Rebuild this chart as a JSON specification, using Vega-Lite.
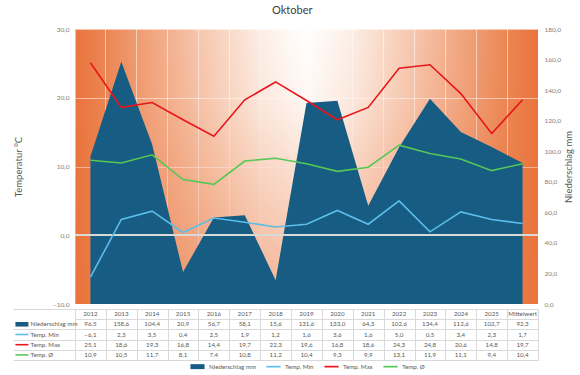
{
  "$schema": "https://vega.github.io/schema/vega-lite/v6.json",
  "background": "white",
  "padding": {"left": 12, "top": 5, "right": 5, "bottom": 4},
  "config": {
    "locale": {"number": {"decimal": ",", "thousands": ".", "grouping": [3], "currency": ["", " €"]}},
    "font": "Lato",
    "view": {"stroke": null},
    "text": {"font": "Lato"}
  },
  "title": {"text": "Oktober", "fontSize": 11, "fontWeight": "normal", "color": "#404040", "anchor": "middle", "offset": 10, "font": "Lato"},
  "data": {"values": [
    {"year": "2012", "series": "Niederschlag mm", "value": 96.5},
    {"year": "2013", "series": "Niederschlag mm", "value": 158.6},
    {"year": "2014", "series": "Niederschlag mm", "value": 104.4},
    {"year": "2015", "series": "Niederschlag mm", "value": 20.9},
    {"year": "2016", "series": "Niederschlag mm", "value": 56.7},
    {"year": "2017", "series": "Niederschlag mm", "value": 58.1},
    {"year": "2018", "series": "Niederschlag mm", "value": 15.6},
    {"year": "2019", "series": "Niederschlag mm", "value": 131.6},
    {"year": "2020", "series": "Niederschlag mm", "value": 133.0},
    {"year": "2021", "series": "Niederschlag mm", "value": 64.3},
    {"year": "2022", "series": "Niederschlag mm", "value": 102.6},
    {"year": "2023", "series": "Niederschlag mm", "value": 134.4},
    {"year": "2024", "series": "Niederschlag mm", "value": 112.6},
    {"year": "2025", "series": "Niederschlag mm", "value": 102.7},
    {"year": "Mittelwert", "series": "Niederschlag mm", "value": 92.3},
    {"year": "2012", "series": "Temp. Min", "value": -6.1},
    {"year": "2013", "series": "Temp. Min", "value": 2.3},
    {"year": "2014", "series": "Temp. Min", "value": 3.5},
    {"year": "2015", "series": "Temp. Min", "value": 0.4},
    {"year": "2016", "series": "Temp. Min", "value": 2.5},
    {"year": "2017", "series": "Temp. Min", "value": 1.9},
    {"year": "2018", "series": "Temp. Min", "value": 1.2},
    {"year": "2019", "series": "Temp. Min", "value": 1.6},
    {"year": "2020", "series": "Temp. Min", "value": 3.6},
    {"year": "2021", "series": "Temp. Min", "value": 1.6},
    {"year": "2022", "series": "Temp. Min", "value": 5.0},
    {"year": "2023", "series": "Temp. Min", "value": 0.5},
    {"year": "2024", "series": "Temp. Min", "value": 3.4},
    {"year": "2025", "series": "Temp. Min", "value": 2.3},
    {"year": "Mittelwert", "series": "Temp. Min", "value": 1.7},
    {"year": "2012", "series": "Temp. Max", "value": 25.1},
    {"year": "2013", "series": "Temp. Max", "value": 18.6},
    {"year": "2014", "series": "Temp. Max", "value": 19.3},
    {"year": "2015", "series": "Temp. Max", "value": 16.8},
    {"year": "2016", "series": "Temp. Max", "value": 14.4},
    {"year": "2017", "series": "Temp. Max", "value": 19.7},
    {"year": "2018", "series": "Temp. Max", "value": 22.3},
    {"year": "2019", "series": "Temp. Max", "value": 19.6},
    {"year": "2020", "series": "Temp. Max", "value": 16.8},
    {"year": "2021", "series": "Temp. Max", "value": 18.6},
    {"year": "2022", "series": "Temp. Max", "value": 24.3},
    {"year": "2023", "series": "Temp. Max", "value": 24.8},
    {"year": "2024", "series": "Temp. Max", "value": 20.6},
    {"year": "2025", "series": "Temp. Max", "value": 14.8},
    {"year": "Mittelwert", "series": "Temp. Max", "value": 19.7},
    {"year": "2012", "series": "Temp. Ø", "value": 10.9},
    {"year": "2013", "series": "Temp. Ø", "value": 10.5},
    {"year": "2014", "series": "Temp. Ø", "value": 11.7},
    {"year": "2015", "series": "Temp. Ø", "value": 8.1},
    {"year": "2016", "series": "Temp. Ø", "value": 7.4},
    {"year": "2017", "series": "Temp. Ø", "value": 10.8},
    {"year": "2018", "series": "Temp. Ø", "value": 11.2},
    {"year": "2019", "series": "Temp. Ø", "value": 10.4},
    {"year": "2020", "series": "Temp. Ø", "value": 9.3},
    {"year": "2021", "series": "Temp. Ø", "value": 9.9},
    {"year": "2022", "series": "Temp. Ø", "value": 13.1},
    {"year": "2023", "series": "Temp. Ø", "value": 11.9},
    {"year": "2024", "series": "Temp. Ø", "value": 11.1},
    {"year": "2025", "series": "Temp. Ø", "value": 9.4},
    {"year": "Mittelwert", "series": "Temp. Ø", "value": 10.4}
  ]},
  "spacing": 0,
  "resolve": {"scale": {"x": "independent", "y": "independent", "color": "independent"}},
  "vconcat": [
    {
      "width": 463,
      "height": 275,
      "view": {"stroke": null, "fill": {"gradient": "linear", "x1": 0, "y1": 0.5, "x2": 1, "y2": 0.5, "stops": [
        {"offset": 0, "color": "#E9743D"},
        {"offset": 0.07, "color": "#EC8755"},
        {"offset": 0.18, "color": "#F2AA86"},
        {"offset": 0.31, "color": "#F8D3BF"},
        {"offset": 0.41, "color": "#FDF0E8"},
        {"offset": 0.5, "color": "#FFFFFF"},
        {"offset": 0.59, "color": "#FDF0E8"},
        {"offset": 0.69, "color": "#F8D3BF"},
        {"offset": 0.82, "color": "#F2AA86"},
        {"offset": 0.93, "color": "#EC8755"},
        {"offset": 1, "color": "#E9743D"}
      ]}},
      "resolve": {"scale": {"y": "independent"}, "axis": {"y": "independent"}},
      "layer": [
        {
          "data": {"values": [{}]},
          "mark": {"type": "rect", "fill": {"gradient": "linear", "x1": 0.5, "y1": 0, "x2": 0.5, "y2": 1, "stops": [
            {"offset": 0, "color": "rgba(233,115,58,0)"},
            {"offset": 0.25, "color": "rgba(233,115,58,0.05)"},
            {"offset": 1, "color": "rgba(233,115,58,0.5)"}
          ]}},
          "encoding": {}
        },
        {
          "transform": [{"filter": "datum.series === 'Niederschlag mm'"}],
          "mark": {"type": "area", "color": "#175C82", "opacity": 1},
          "encoding": {
            "x": {"field": "year", "type": "ordinal", "sort": null, "bandPosition": 0.5,
              "scale": {"type": "band", "paddingInner": 0, "paddingOuter": 0},
              "axis": {"title": null, "labels": false, "ticks": false, "domain": false, "grid": true, "bandPosition": 0, "gridColor": "#FFFFFF", "gridOpacity": 0.55, "gridWidth": 1}},
            "y": {"field": "value", "type": "quantitative", "scale": {"domain": [0, 180]},
              "axis": {"orient": "right", "title": "Niederschlag mm", "values": [0, 20, 40, 60, 80, 100, 120, 140, 160, 180], "format": ".1f",
                "labelFontSize": 6.5, "labelColor": "#808080", "ticks": false, "domain": false, "grid": false, "labelPadding": 6,
                "titleAngle": 270, "titleBaseline": "top", "titleFontSize": 9.5, "titleFontWeight": "normal", "titleColor": "#595959", "titlePadding": 4, "minExtent": 21, "maxExtent": 21}}
          }
        },
        {
          "layer": [
            {
              "mark": {"type": "rule", "color": "#D9D9D9", "strokeWidth": 1},
              "encoding": {"y": {"datum": 0, "type": "quantitative"}}
            },
            {
              "transform": [{"filter": "datum.series === 'Temp. Min'"}],
              "mark": {"type": "line", "color": "#5BBDEA", "strokeWidth": 1.6},
              "encoding": {
                "x": {"field": "year", "type": "ordinal", "sort": null, "bandPosition": 0.5},
                "y": {"field": "value", "type": "quantitative", "scale": {"domain": [-10, 30]},
                  "axis": {"orient": "left", "title": "Temperatur °C", "values": [-10, -5, 0, 5, 10, 15, 20, 25, 30], "format": ".1f",
                    "labelFontSize": 6.5, "labelColor": "#808080", "ticks": false, "domain": false, "grid": true, "gridColor": "#FFFFFF", "gridOpacity": 0.55,
                    "labelPadding": 6, "minExtent": 22, "maxExtent": 22, "titlePadding": 30, "titleFontSize": 9.5, "titleFontWeight": "normal", "titleColor": "#595959"}}
              }
            },
            {
              "transform": [{"filter": "datum.series === 'Temp. Max'"}],
              "mark": {"type": "line", "color": "#E8161B", "strokeWidth": 1.6},
              "encoding": {
                "x": {"field": "year", "type": "ordinal", "sort": null, "bandPosition": 0.5},
                "y": {"field": "value", "type": "quantitative"}
              }
            },
            {
              "transform": [{"filter": "datum.series === 'Temp. Ø'"}],
              "mark": {"type": "line", "color": "#55C855", "strokeWidth": 1.6},
              "encoding": {
                "x": {"field": "year", "type": "ordinal", "sort": null, "bandPosition": 0.5},
                "y": {"field": "value", "type": "quantitative"}
              }
            }
          ]
        }
      ]
    },
    {
      "width": 463,
      "height": 51,
      "view": {"stroke": "#D9D9D9", "strokeWidth": 1},
      "encoding": {
        "x": {"field": "year", "type": "nominal",
          "scale": {"type": "band", "paddingInner": 0, "paddingOuter": 0, "domain": ["2012", "2013", "2014", "2015", "2016", "2017", "2018", "2019", "2020", "2021", "2022", "2023", "2024", "2025", "Mittelwert"]},
          "axis": {"title": null, "labels": false, "ticks": false, "domain": false, "grid": true, "tickBand": "extent", "gridColor": "#D9D9D9"}},
        "y": {"field": "series", "type": "nominal",
          "scale": {"type": "band", "paddingInner": 0, "paddingOuter": 0, "domain": ["header", "Niederschlag mm", "Temp. Min", "Temp. Max", "Temp. Ø"]},
          "axis": {"title": null, "labels": false, "ticks": true, "tickSize": 62, "tickColor": "#D9D9D9", "tickBand": "extent", "domain": false, "grid": true, "gridColor": "#D9D9D9",
            "tickOpacity": {"condition": {"test": "datum.value === 'header'", "value": 0}, "value": 1}}}
      },
      "layer": [
        {
          "transform": [{"filter": "datum.series === 'Temp. Min'"}],
          "mark": {"type": "text", "fontSize": 6.2, "color": "#595959"},
          "encoding": {
            "y": {"datum": "header", "type": "nominal"},
            "text": {"field": "year"}
          }
        },
        {
          "mark": {"type": "text", "fontSize": 6.2, "color": "#595959"},
          "encoding": {
            "text": {"field": "value", "type": "quantitative", "format": ".1f"}
          }
        },
        {
          "transform": [{"filter": "datum.year === '2012'"}],
          "mark": {"type": "text", "fontSize": 6.2, "color": "#595959", "align": "left"},
          "encoding": {
            "x": {"datum": "2012", "type": "nominal", "bandPosition": -1.44},
            "text": {"field": "series"}
          }
        },
        {
          "transform": [{"filter": "datum.year === '2012'"}],
          "mark": {"type": "point", "filled": true, "opacity": 1, "size": 169, "strokeWidth": 0},
          "encoding": {
            "x": {"datum": "2012", "type": "nominal", "bandPosition": -1.72},
            "shape": {"field": "series", "type": "nominal",
              "scale": {"domain": ["Niederschlag mm", "Temp. Min", "Temp. Max", "Temp. Ø"], "range": ["M-1,-0.35H1V0.35H-1Z", "M-1,-0.12H1V0.12H-1Z", "M-1,-0.12H1V0.12H-1Z", "M-1,-0.12H1V0.12H-1Z"]},
              "legend": null},
            "color": {"field": "series", "type": "nominal",
              "scale": {"domain": ["Niederschlag mm", "Temp. Min", "Temp. Max", "Temp. Ø"], "range": ["#175C82", "#5BBDEA", "#E8161B", "#55C855"]},
              "legend": {"orient": "none", "legendX": 115, "legendY": 50, "direction": "horizontal", "title": null, "labelFontSize": 6.2, "labelColor": "#595959", "symbolSize": 200, "columnPadding": 10, "symbolOpacity": 1,
                "symbolType": "M-1,-0.12H1V0.12H-1Z",
                "encode": {"symbols": {"update": {"shape": {"signal": "datum.value === 'Niederschlag mm' ? 'M-1,-0.35H1V0.35H-1Z' : 'M-1,-0.12H1V0.12H-1Z'"}, "fill": {"scale": "color", "field": "value"}, "strokeWidth": {"value": 0}}}}}
            }
          }
        }
      ]
    }
  ]
}
